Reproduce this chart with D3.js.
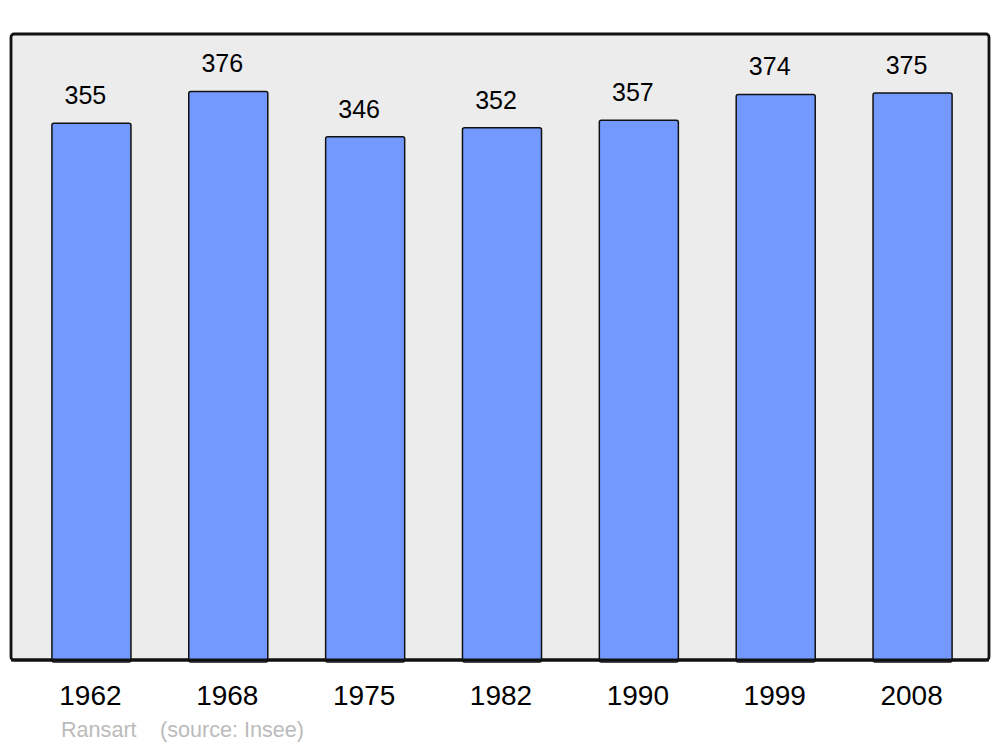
<!DOCTYPE html>
<html>
<head>
<meta charset="utf-8">
<script src="https://cdn.jsdelivr.net/npm/d3@7"></script>
<style>
  body { margin: 0; background: #fff; }
  svg { display: block; }
</style>
</head>
<body>
<svg id="chart" width="1000" height="747"></svg>
<script>
const years = ["1962", "1968", "1975", "1982", "1990", "1999", "2008"];
const population = [355, 376, 346, 352, 357, 374, 375];
const sourceLabels = ["Ransart", "(source: Insee)"];

const svg = d3.select("#chart");
const frame = {left: 11, top: 34, right: 989, bottom: 660};

const x = d3.scaleBand()
    .domain(years)
    .range([23, 981])
    .paddingInner(0.4225)
    .paddingOuter(0.21125);

const y = d3.scaleLinear()
    .domain([0, 414])
    .range([frame.bottom, frame.top]);

// background frame
svg.append("rect")
    .attr("x", frame.left)
    .attr("y", frame.top)
    .attr("width", frame.right - frame.left)
    .attr("height", frame.bottom - frame.top)
    .attr("rx", 3)
    .attr("fill", "#ececec")
    .attr("stroke", "#111")
    .attr("stroke-width", 2.8);

const data = years.map((yr, i) => ({year: yr, value: population[i]}));

svg.selectAll("rect.bar")
    .data(data)
    .enter().append("rect")
    .attr("class", "bar")
    .attr("x", d => x(d.year))
    .attr("y", d => y(d.value))
    .attr("width", x.bandwidth())
    .attr("height", d => y(0) - y(d.value) + 2)
    .attr("rx", 2)
    .attr("fill", "#7399ff")
    .attr("stroke", "#111")
    .attr("stroke-width", 1.5);

// redraw frame bottom line over the bars
svg.append("line")
    .attr("x1", frame.left)
    .attr("x2", frame.right)
    .attr("y1", frame.bottom)
    .attr("y2", frame.bottom)
    .attr("stroke", "#111")
    .attr("stroke-width", 2.8);

svg.selectAll("text.value")
    .data(data)
    .enter().append("text")
    .attr("class", "value")
    .attr("x", d => x(d.year) + x.bandwidth() / 2 - 6)
    .attr("y", d => y(d.value) - 19)
    .attr("text-anchor", "middle")
    .attr("font-family", "Liberation Sans, Arial, sans-serif")
    .attr("font-size", 25)
    .attr("fill", "#000")
    .text(d => d.value);

svg.selectAll("text.year")
    .data(years)
    .enter().append("text")
    .attr("class", "year")
    .attr("x", d => x(d) + x.bandwidth() / 2 - 1)
    .attr("y", 705)
    .attr("text-anchor", "middle")
    .attr("font-family", "Liberation Sans, Arial, sans-serif")
    .attr("font-size", 28)
    .attr("fill", "#000")
    .text(d => d);

svg.selectAll("text.source")
    .data(sourceLabels)
    .enter().append("text")
    .attr("class", "source")
    .attr("x", (d, i) => i === 0 ? 61 : 160)
    .attr("y", 737)
    .attr("font-family", "Liberation Sans, Arial, sans-serif")
    .attr("font-size", 21.6)
    .attr("fill", "#bbb")
    .text(d => d);
</script>
</body>
</html>
